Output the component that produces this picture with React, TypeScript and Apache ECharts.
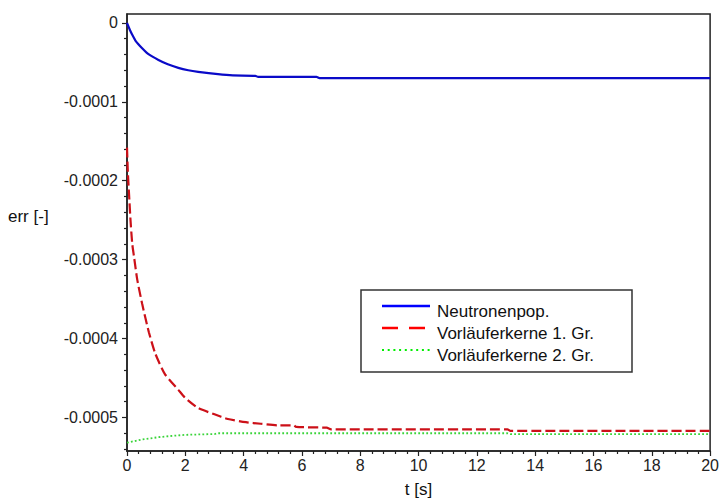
import React, { useEffect, useRef } from "react";
import * as echarts from "echarts";

// ---- data ----
const SERIES_NAMES = ["Neutronenpop.", "Vorläuferkerne 1. Gr.", "Vorläuferkerne 2. Gr."];

const T_BLUE = [0, 0.1, 0.18, 0.3, 0.52, 0.75, 1.08, 1.4, 1.76, 2.1, 2.44, 3.12, 3.63, 4.4, 4.5, 6.5, 6.6, 20];
const V_BLUE = [0, -0.9e-5, -1.5e-5, -2.3e-5, -3.2e-5, -4.0e-5, -4.7e-5, -5.25e-5, -5.7e-5, -6.0e-5, -6.2e-5, -6.5e-5, -6.65e-5, -6.7e-5, -6.85e-5, -6.85e-5, -7.0e-5, -7.0e-5];

const T_RED = [0, 0.03, 0.07, 0.12, 0.18, 0.24, 0.35, 0.52, 0.75, 0.97, 1.3, 1.76, 1.99, 2.44, 3.0, 3.46, 4.08, 4.59, 5.2, 5.72, 5.8, 6.85, 7.0, 13.05, 13.15, 20];
const V_RED = [-1.58e-4, -1.9e-4, -2.17e-4, -2.5e-4, -2.8e-4, -2.96e-4, -3.25e-4, -3.56e-4, -3.92e-4, -4.19e-4, -4.45e-4, -4.65e-4, -4.75e-4, -4.88e-4, -4.96e-4, -5.02e-4, -5.06e-4, -5.08e-4, -5.10e-4, -5.10e-4, -5.12e-4, -5.13e-4, -5.15e-4, -5.15e-4, -5.17e-4, -5.17e-4];

const T_GREEN = [0, 0.5, 1.08, 1.5, 2.0, 3.0, 3.1, 6.0, 13.05, 13.15, 20];
const V_GREEN = [-5.32e-4, -5.28e-4, -5.25e-4, -5.235e-4, -5.22e-4, -5.21e-4, -5.20e-4, -5.20e-4, -5.20e-4, -5.21e-4, -5.21e-4];

const Y_TICKS = [0, -0.0001, -0.0002, -0.0003, -0.0004, -0.0005];
const Y_TICK_LABELS = ["0", "-0.0001", "-0.0002", "-0.0003", "-0.0004", "-0.0005"];
const Y_MINOR_STEP = 0.00002;
const Y_MIN = -0.0005425;
const Y_MAX = 0.0000113;

const X_MIN = 0;
const X_MAX = 20;
const X_INTERVAL = 2;

const X_NAME = "t [s]";
const Y_NAME = "err [-]";

const CURVE_COLORS = ["#0a0ac8", "#cc1018", "#3ad43a"];
const LEGEND_COLORS = ["#0000ff", "#ff0000", "#00ee00"];

const FONT = "'Liberation Sans', Arial, sans-serif";

function zip(t: number[], v: number[]) {
  return t.map((x, i) => [x, v[i]]);
}

export default function App() {
  const ref = useRef<HTMLDivElement>(null);
  useEffect(() => {
    if (!ref.current) return;
    const chart = echarts.init(ref.current, null, { renderer: "svg" });

    const minorVals: number[] = [];
    for (let k = 0; ; k++) {
      const v = Math.round(-k * Y_MINOR_STEP * 1e7) / 1e7;
      if (v < Y_MIN) break;
      if (Math.abs(v / 0.0001 - Math.round(v / 0.0001)) > 1e-6) minorVals.push(v);
    }

    const legendX = 361;
    const legendY = 290;
    const rowYs = [306, 328, 350];
    const legendGraphics: any[] = [
      {
        type: "rect",
        shape: { x: legendX, y: legendY, width: 271, height: 82 },
        style: { fill: "#fff", stroke: "#333", lineWidth: 1.5 },
        z: 100,
      },
    ];
    const dashes = [null, [16, 11], [2, 3.7]];
    const widths = [2.5, 2.5, 2];
    SERIES_NAMES.forEach((name, i) => {
      legendGraphics.push({
        type: "line",
        shape: { x1: 382, y1: rowYs[i], x2: 430, y2: rowYs[i] },
        style: {
          stroke: LEGEND_COLORS[i],
          lineWidth: widths[i],
          lineDash: dashes[i] || undefined,
        },
        z: 101,
      });
      legendGraphics.push({
        type: "text",
        x: 437,
        y: rowYs[i] + 5,
        style: {
          text: name,
          fill: "#111",
          font: `17px ${FONT}`,
          textVerticalAlign: "middle",
          textAlign: "left",
        },
        z: 101,
      });
    });

    chart.setOption({
      animation: false,
      backgroundColor: "#fff",
      textStyle: { fontFamily: FONT },
      grid: {
        left: 127,
        top: 14,
        right: 5,
        bottom: 47,
        show: true,
        borderColor: "#222",
        borderWidth: 1.5,
        backgroundColor: "transparent",
      },
      xAxis: {
        type: "value",
        min: X_MIN,
        max: X_MAX,
        interval: X_INTERVAL,
        name: X_NAME,
        nameLocation: "middle",
        nameGap: 30,
        nameTextStyle: { fontSize: 17, color: "#111", fontFamily: FONT },
        axisLine: { show: true, onZero: false, lineStyle: { color: "#222", width: 1.5 } },
        axisTick: { show: true, length: 5, lineStyle: { color: "#222", width: 1.2 } },
        minorTick: { show: true, splitNumber: 5, length: 3, lineStyle: { color: "#222", width: 1.2 } },
        axisLabel: { fontSize: 16, color: "#222", margin: 6, fontFamily: FONT },
        splitLine: { show: false },
      },
      yAxis: [
        {
          type: "value",
          min: Y_MIN,
          max: Y_MAX,
          position: "left",
          axisLine: { show: true, onZero: false, lineStyle: { color: "#222", width: 1.5 } },
          axisTick: { show: true, length: 5, customValues: Y_TICKS, lineStyle: { color: "#222", width: 1.2 } },
          axisLabel: {
            fontSize: 16,
            color: "#222",
            margin: 9,
            fontFamily: FONT,
            customValues: Y_TICKS,
            formatter: (v: number) => {
              const idx = Y_TICKS.findIndex((t) => Math.abs(t - v) < 1e-9);
              return idx >= 0 ? Y_TICK_LABELS[idx] : "";
            },
          },
          splitLine: { show: false },
        },
        {
          type: "value",
          min: Y_MIN,
          max: Y_MAX,
          position: "left",
          axisLine: { show: false, onZero: false },
          axisTick: { show: true, length: 3, customValues: minorVals, lineStyle: { color: "#222", width: 1.2 } },
          axisLabel: { show: false },
          splitLine: { show: false },
        },
      ],
      series: [
        {
          name: SERIES_NAMES[0],
          type: "line",
          data: zip(T_BLUE, V_BLUE),
          showSymbol: false,
          symbol: "none",
          lineStyle: { color: CURVE_COLORS[0], width: 2.2 },
          smooth: 0.2,
        },
        {
          name: SERIES_NAMES[1],
          type: "line",
          data: zip(T_RED, V_RED),
          showSymbol: false,
          symbol: "none",
          lineStyle: { color: CURVE_COLORS[1], width: 2.2, type: [10, 4] },
          smooth: 0.2,
        },
        {
          name: SERIES_NAMES[2],
          type: "line",
          data: zip(T_GREEN, V_GREEN),
          showSymbol: false,
          symbol: "none",
          lineStyle: { color: CURVE_COLORS[2], width: 1.8, type: [1.8, 2.2] },
        },
      ],
      graphic: [
        {
          type: "text",
          x: 8,
          y: 216,
          style: {
            text: Y_NAME,
            fill: "#111",
            font: `17px ${FONT}`,
            textVerticalAlign: "middle",
            textAlign: "left",
          },
        },
        ...legendGraphics,
      ],
    });
    return () => chart.dispose();
  }, []);
  return (
    <div
      ref={ref}
      style={{ position: "fixed", left: 0, top: 0, width: 722, height: 503, background: "#fff" }}
    />
  );
}
